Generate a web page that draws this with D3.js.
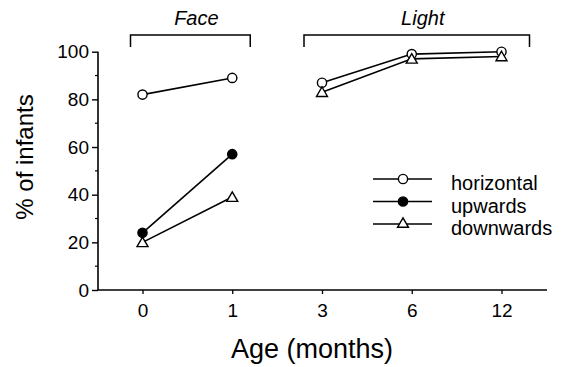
<!DOCTYPE html>
<html>
<head>
<meta charset="utf-8">
<script src="https://cdn.jsdelivr.net/npm/d3@7"></script>
<style>
  html, body { margin: 0; padding: 0; background: #fff; }
  svg { display: block; font-family: "Liberation Sans", Arial, Helvetica, sans-serif; }
</style>
</head>
<body>
<svg id="chart" width="567" height="367"></svg>
<script>
// Ages at test (months), shown as evenly spaced categories
const ages = ["0", "1", "3", "6", "12"];
const yTicks = [0, 20, 40, 60, 80, 100];
const yMinorTicks = [10, 30, 50, 70, 90];

// Percentage of infants responding, split by stimulus (Face: 0-1 mo, Light: 3-12 mo)
const horizontalFace = [["0", 82], ["1", 89]];
const horizontalLight = [["3", 87], ["6", 99], ["12", 100]];
const upwardsFace = [["0", 24], ["1", 57]];
const downwardsFace = [["0", 20], ["1", 39]];
const downwardsLight = [["3", 83], ["6", 97], ["12", 98]];

const groups = [
  { label: "Face", from: "0", to: "1", padLeft: 12, padRight: 18 },
  { label: "Light", from: "3", to: "12", padLeft: 18, padRight: 28 }
];

const legendItems = [
  { label: "horizontal", symbol: "circle-open" },
  { label: "upwards", symbol: "circle-filled" },
  { label: "downwards", symbol: "triangle" }
];

const svg = d3.select("#chart");

const x = d3.scalePoint().domain(ages).range([142.5, 501.5]);
const y = d3.scaleLinear().domain([0, 100]).range([290, 51.7]);

const axisX0 = 98, axisX1 = 547;

// Y axis with major and minor ticks
const yAxis = svg.append("g").attr("transform", `translate(${axisX0},0)`)
  .call(d3.axisLeft(y).tickValues(yTicks).tickSize(6).tickPadding(3));
yAxis.select(".domain").remove();
yAxis.selectAll(".tick line").attr("stroke", "#000").attr("stroke-width", 1.4);
yAxis.selectAll(".tick text").attr("font-size", 19).attr("fill", "#000");
yAxis.append("line").attr("x1", 0).attr("x2", 0)
  .attr("y1", y(0)).attr("y2", y(100))
  .attr("stroke", "#000").attr("stroke-width", 1.6);
yAxis.selectAll(".minor").data(yMinorTicks).enter().append("line")
  .attr("class", "minor")
  .attr("x1", -3).attr("x2", 0)
  .attr("y1", d => y(d)).attr("y2", d => y(d))
  .attr("stroke", "#000").attr("stroke-width", 1.2);

// X axis
const xAxis = svg.append("g").attr("transform", `translate(0,${y(0)})`)
  .call(d3.axisBottom(x).tickSize(4).tickPadding(10));
xAxis.select(".domain").remove();
xAxis.selectAll(".tick line").attr("stroke", "#000").attr("stroke-width", 1.3);
xAxis.selectAll(".tick text").attr("font-size", 19).attr("fill", "#000");
xAxis.append("line").attr("x1", axisX0).attr("x2", axisX1)
  .attr("y1", 0).attr("y2", 0)
  .attr("stroke", "#000").attr("stroke-width", 1.6);

// Axis titles
svg.append("text")
  .attr("x", 312).attr("y", 358)
  .attr("text-anchor", "middle")
  .attr("font-size", 27)
  .text("Age (months)");

svg.append("text")
  .attr("transform", "translate(33,157) rotate(-90)")
  .attr("text-anchor", "middle")
  .attr("font-size", 24)
  .text("% of infants");

// Condition brackets above the plot
groups.forEach(g => {
  const left = x(g.from) - g.padLeft;
  const right = x(g.to) + g.padRight;
  const gg = svg.append("g");
  gg.append("path")
    .attr("d", `M${left},47 V35 H${right} V47`)
    .attr("fill", "none").attr("stroke", "#000").attr("stroke-width", 1.5);
  gg.append("text")
    .attr("x", (left + right) / 2 + 6)
    .attr("y", 25)
    .attr("text-anchor", "middle")
    .attr("font-size", 20)
    .attr("font-style", "italic")
    .text(g.label);
});

// Series lines and markers
const line = d3.line().x(d => x(d[0])).y(d => y(d[1]));
const R = 4.6;
const triPath = (cx, cy) => {
  const h = 9.5, w = 11;
  return `M${cx},${cy - h * 0.55} L${cx + w / 2},${cy + h * 0.45} L${cx - w / 2},${cy + h * 0.45} Z`;
};

function drawLine(data) {
  svg.append("path").datum(data)
    .attr("d", line)
    .attr("fill", "none").attr("stroke", "#000").attr("stroke-width", 1.6);
}
function drawCircles(data, filled) {
  svg.append("g").selectAll("circle").data(data).enter().append("circle")
    .attr("cx", d => x(d[0])).attr("cy", d => y(d[1])).attr("r", R)
    .attr("fill", filled ? "#000" : "#fff")
    .attr("stroke", "#000").attr("stroke-width", 1.4);
}
function drawTriangles(data) {
  svg.append("g").selectAll("path").data(data).enter().append("path")
    .attr("d", d => triPath(x(d[0]), y(d[1])))
    .attr("fill", "#fff").attr("stroke", "#000").attr("stroke-width", 1.4);
}

[horizontalFace, horizontalLight, upwardsFace, downwardsFace, downwardsLight].forEach(drawLine);
drawCircles(horizontalFace, false);
drawCircles(horizontalLight, false);
drawTriangles(downwardsFace);
drawTriangles(downwardsLight);
drawCircles(upwardsFace, true);

// Legend
const legend = svg.append("g");
legendItems.forEach((item, i) => {
  const ly = 179 + i * 22.5;
  legend.append("line")
    .attr("x1", 373).attr("x2", 432).attr("y1", ly).attr("y2", ly)
    .attr("stroke", "#000").attr("stroke-width", 1.5);
  if (item.symbol === "triangle") {
    legend.append("path").attr("d", triPath(403, ly - 1))
      .attr("fill", "#fff").attr("stroke", "#000").attr("stroke-width", 1.4);
  } else {
    legend.append("circle").attr("cx", 403).attr("cy", ly).attr("r", R)
      .attr("fill", item.symbol === "circle-filled" ? "#000" : "#fff")
      .attr("stroke", "#000").attr("stroke-width", 1.4);
  }
  legend.append("text")
    .attr("x", 451).attr("y", ly + 11)
    .attr("font-size", 20)
    .text(item.label);
});
</script>
</body>
</html>
